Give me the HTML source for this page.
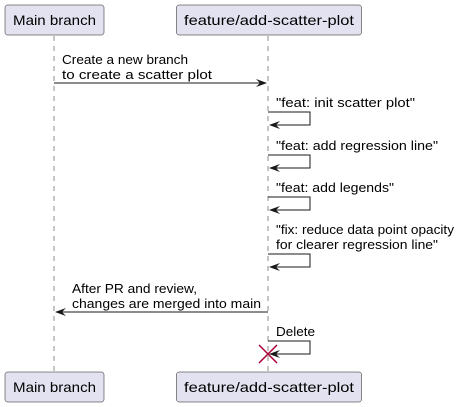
<!DOCTYPE html>
<html><head><style>body{margin:0;background:#fff}svg{display:block}text{font-family:"Liberation Sans",sans-serif;font-size:13px;fill:#000}</style></head><body>
<svg width="471" height="407" xmlns="http://www.w3.org/2000/svg">
<g stroke="#181818" stroke-width="0.5" stroke-dasharray="5,5">
<line x1="54" y1="36" x2="54" y2="372"/><line x1="268" y1="36" x2="268" y2="372"/></g>
<g fill="#E2E2F0" stroke="#181818" stroke-width="0.5">
<rect x="5" y="5" width="99" height="30" rx="2.5"/><rect x="176.5" y="5" width="185" height="30" rx="2.5"/>
<rect x="5" y="372" width="99" height="30" rx="2.5"/><rect x="176.5" y="372" width="185" height="30" rx="2.5"/></g>
<text x="13" y="25" style="font-size:14px" textLength="83" lengthAdjust="spacingAndGlyphs">Main branch</text><text x="184" y="25" style="font-size:14px" textLength="170" lengthAdjust="spacingAndGlyphs">feature/add-scatter-plot</text>
<text x="13" y="392" style="font-size:14px" textLength="83" lengthAdjust="spacingAndGlyphs">Main branch</text><text x="184" y="392" style="font-size:14px" textLength="170" lengthAdjust="spacingAndGlyphs">feature/add-scatter-plot</text>
<g stroke="#181818" fill="none" stroke-width="1">
<line x1="54" y1="83" x2="266" y2="83"/>
<polyline points="268,112 310,112 310,125 270,125"/>
<polyline points="268,155 310,155 310,168 270,168"/>
<polyline points="268,197 310,197 310,210 270,210"/>
<polyline points="268,254 310,254 310,267 270,267"/>
<line x1="56" y1="312" x2="268" y2="312"/>
<polyline points="268,341 310,341 310,354 270,354"/>
</g>
<g fill="#181818">
<polygon points="256,79 267,83 256,87 260,83"/>
<polygon points="280,121 269,125 280,129 276,125"/>
<polygon points="280,164 269,168 280,172 276,168"/>
<polygon points="280,206 269,210 280,214 276,210"/>
<polygon points="280,263 269,267 280,271 276,267"/>
<polygon points="66,308 55,312 66,316 62,312"/>
<polygon points="280,350 269,354 280,358 276,354"/>
</g>
<g stroke="#A80036" stroke-width="1.5"><line x1="259" y1="345" x2="277" y2="363"/><line x1="277" y1="345" x2="259" y2="363"/></g>
<g style="" >
<text x="62" y="64" textLength="126" lengthAdjust="spacingAndGlyphs">Create a new branch</text>
<text x="62" y="79" textLength="150" lengthAdjust="spacingAndGlyphs">to create a scatter plot</text>
<text x="276" y="107" textLength="139" lengthAdjust="spacingAndGlyphs">"feat: init scatter plot"</text>
<text x="276" y="150" textLength="162" lengthAdjust="spacingAndGlyphs">"feat: add regression line"</text>
<text x="276" y="192" textLength="118" lengthAdjust="spacingAndGlyphs">"feat: add legends"</text>
<text x="276" y="234" textLength="178" lengthAdjust="spacingAndGlyphs">"fix: reduce data point opacity</text>
<text x="276" y="249" textLength="162" lengthAdjust="spacingAndGlyphs">for clearer regression line"</text>
<text x="72" y="293" textLength="125" lengthAdjust="spacingAndGlyphs">After PR and review,</text>
<text x="72" y="308" textLength="189" lengthAdjust="spacingAndGlyphs">changes are merged into main</text>
<text x="276" y="336" textLength="39" lengthAdjust="spacingAndGlyphs">Delete</text>
</g>
</svg></body></html>
